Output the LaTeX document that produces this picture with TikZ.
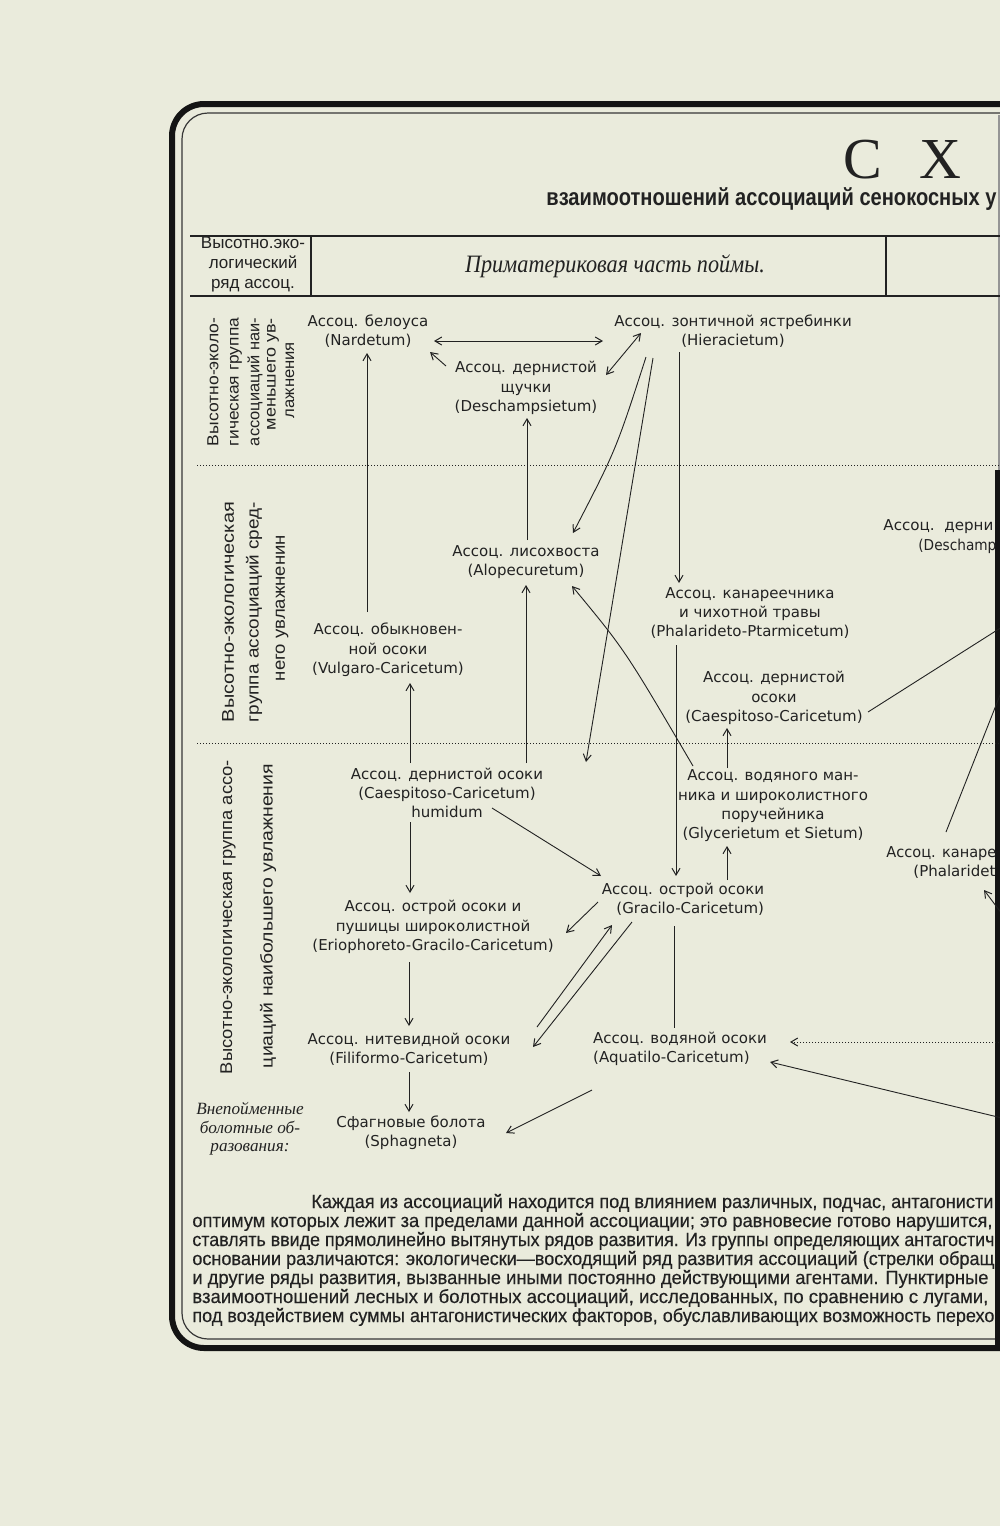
\documentclass[tikz,border=0pt]{standalone}
\usepackage{fontspec}
\setmainfont{DejaVu Sans}
\newfontfamily\labfont{DejaVu Sans}
\newfontfamily\helfont{Liberation Sans}
\newfontfamily\helmed[FakeBold=0.35]{Liberation Sans}
\newfontfamily\serfont{Liberation Serif}
\usetikzlibrary{arrows.meta}
\definecolor{paper}{HTML}{EAEBDC}
\definecolor{ink}{HTML}{222222}
\definecolor{framec}{HTML}{141414}
\tikzset{
  lbl/.style={font=\labfont\fontsize{7.5}{9.65}\selectfont, align=center, inner sep=0pt, text=ink},
  vlab/.style={font=\helfont\fontsize{8}{9.5}\selectfont, rotate=90, inner sep=0pt, text=ink},
  vlabb/.style={vlab, font=\helfont\fontsize{8.5}{9.5}\selectfont},
  ln/.style={draw=ink, line width=0.45pt},
  tipb/.tip={Straight Barb[length=3.4pt,width=4pt,line width=0.5pt]},
  arr/.style={ln, -tipb},
  darr/.style={ln, tipb-tipb},
  dotln/.style={draw=ink, line width=0.5pt, dash pattern=on 0.6pt off 0.9pt},
  para/.style={font=\helmed\fontsize{9.5}{9.5}\selectfont, anchor=base west, inner sep=0pt, text=ink},
}
\begin{document}
\begin{tikzpicture}[x=0.5pt,y=-0.5pt]
\useasboundingbox (0,0) rectangle (1000,1526);
\fill[paper] (0,0) rectangle (1000,1526);
\begin{scope}
\clip (0,0) rectangle (1000,1526);

% frame
\draw[framec, line width=3pt, rounded corners=16pt] (1004,104) -- (172,104) -- (172,1348) -- (1004,1348);
\draw[framec!85, line width=0.6pt, rounded corners=13pt] (1004,113) -- (182,113) -- (182,1339) -- (1004,1339);
\fill[framec!45] (998,115) rectangle (1000,470);
\fill[framec] (995,470) rectangle (1000,1346);

% heading
\node[anchor=base, inner sep=0pt, text=ink, font=\serfont\fontsize{29}{30}\selectfont] (hc) at (863,178) {С};
\node[anchor=base, inner sep=0pt, text=ink, font=\serfont\fontsize{29}{30}\selectfont] (hx) at (940,178) {Х};
\node[anchor=base west, inner sep=0pt, text=ink, font=\helfont\bfseries\fontsize{12}{13}\selectfont] (title) at (546,205)
  {\resizebox{225pt}{\height}{взаимоотношений ассоциаций сенокосных у}};

% header row
\draw[ln, line width=0.6pt] (190,236) -- (1004,236);
\draw[ln, line width=0.6pt] (190,296) -- (1004,296);
\draw[ln, line width=0.6pt] (311,236) -- (311,296);
\draw[ln, line width=0.6pt] (886,236) -- (886,296);
\node[align=center, inner sep=0pt, text=ink, font=\helfont\fontsize{8.5}{10}\selectfont] (hdr) at (253,264)
  {Высотно.эко-\\логический\\ряд ассоц.};
\node[anchor=base, inner sep=0pt, text=ink, font=\serfont\itshape\fontsize{12.5}{13}\selectfont] (part) at (615,272)
  {\resizebox{150pt}{\height}{Приматериковая часть поймы.}};

% dotted separators
\draw[dotln] (197,465) -- (1004,465);
\draw[dotln] (197,743) -- (1004,743);

% vertical group labels
\node[vlab] (g1a) at (213,382) {\resizebox{64pt}{\height}{Высотно-эколо-}};
\node[vlab] (g1b) at (236,382) {\resizebox{64pt}{\height}{гическая группа}};
\node[vlab] (g1c) at (255,382) {\resizebox{64pt}{\height}{ассоциаций наи-}};
\node[vlab] (g1d) at (273,374) {\resizebox{56pt}{\height}{меньшего ув-}};
\node[vlab] (g1e) at (290,380) {\resizebox{38pt}{\height}{лажнения}};
\node[vlabb] (g2a) at (228,612) {\resizebox{110pt}{\height}{Высотно-экологическая}};
\node[vlabb] (g2b) at (254,612) {\resizebox{110pt}{\height}{группа ассоциаций сред-}};
\node[vlabb] (g2c) at (282,608) {\resizebox{73pt}{\height}{него увлажненин}};
\node[vlabb] (g3a) at (228,917) {\resizebox{157pt}{\height}{Высотно-экологическая группа ассо-}};
\node[vlabb] (g3b) at (268,916) {\resizebox{152pt}{\height}{циаций наибольшего увлажнения}};

% association nodes
\node[lbl] (nard) at (368,331) {Ассоц. белоуса\\(Nardetum)};
\node[lbl] (hier) at (733,331) {Ассоц. зонтичной ястребинки\\(Hieracietum)};
\node[lbl] (desch) at (526,388) {Ассоц. дернистой\\щучки\\(Deschampsietum)};
\node[lbl] (alop) at (526,562) {Ассоц. лисохвоста\\(Alopecuretum)};
\node[lbl] (phal) at (750,613) {Ассоц. канареечника\\и чихотной травы\\(Phalarideto-Ptarmicetum)};
\node[lbl] (vulg) at (388,650) {Ассоц. обыкновен-\\ной осоки\\(Vulgaro-Caricetum)};
\node[lbl] (caesp) at (774,698) {Ассоц. дернистой\\осоки\\(Caespitoso-Caricetum)};
\node[lbl, anchor=base west] (deschR) at (883,530) {\resizebox{55pt}{\height}{Ассоц.\ \ дерни}};
\node[lbl, anchor=base west] (deschRb) at (918,550) {\resizebox{39pt}{\height}{(Deschamp}};
\node[lbl] (hum) at (447,793) {Ассоц. дернистой осоки\\(Caespitoso-Caricetum)\\humidum};
\node[lbl] (glyc) at (773,806) {Ассоц. водяного ман-\\ника и широколистного\\поручейника\\(Glycerietum et Sietum)};
\node[lbl, align=right] (grac) at (683,899) {Ассоц. острой осоки\\(Gracilo-Caricetum)};
\node[lbl] (erio) at (433,927) {Ассоц. острой осоки и\\пушицы широколистной\\(Eriophoreto-Gracilo-Caricetum)};
\node[lbl] (fili) at (409,1049) {Ассоц. нитевидной осоки\\(Filiformo-Caricetum)};
\node[lbl, align=left] (aqua) at (680,1049) {Ассоц. водяной осоки\\(Aquatilo-Caricetum)};
\node[lbl, anchor=base west] (phalR) at (886,857) {\resizebox{55pt}{\height}{Ассоц. канаре}};
\node[lbl, anchor=base west] (phalRb) at (913,876) {\resizebox{41pt}{\height}{(Phalaridet}};
\node[lbl] (sphag) at (411,1133) {Сфагновые болота\\(Sphagneta)};
\node[align=center, inner sep=0pt, text=ink, font=\serfont\itshape\fontsize{8.6}{9.3}\selectfont] (vnep) at (250,1129)
  {Внепойменные\\болотные об-\\разования:};

% connector end points
\coordinate (c1a) at (434,341); \coordinate (c1b) at (603,341);
\coordinate (c2a) at (446,366); \coordinate (c2b) at (430,352);
\coordinate (c3a) at (606,375); \coordinate (c3b) at (641,333);
\coordinate (c4a) at (367,612); \coordinate (c4b) at (367,353);
\coordinate (c5a) at (527,540); \coordinate (c5b) at (527,418);
\coordinate (c6a) at (646,357); \coordinate (c6b) at (573,533);
\coordinate (c7a) at (653,358); \coordinate (c7b) at (586,762);
\coordinate (c8a) at (679,352); \coordinate (c8b) at (679,583);
\coordinate (c9a) at (676,645); \coordinate (c9b) at (676,876);
\coordinate (c10a) at (674,926); \coordinate (c10b) at (674,1028);
\coordinate (c11a) at (727,768); \coordinate (c11b) at (727,728);
\coordinate (c12a) at (727,880); \coordinate (c12b) at (727,846);
\coordinate (c13a) at (868,712); \coordinate (c13b) at (1002,627);
\coordinate (c14a) at (1002,690); \coordinate (c14b) at (946,832);
\coordinate (c15a) at (1002,914); \coordinate (c15b) at (984,890);
\coordinate (c16a) at (1002,1118); \coordinate (c16b) at (770,1062);
\coordinate (c17a) at (592,1090); \coordinate (c17b) at (506,1133);
\coordinate (c18a) at (409,1072); \coordinate (c18b) at (409,1112);
\coordinate (c19a) at (409,962); \coordinate (c19b) at (409,1026);
\coordinate (c20a) at (410,822); \coordinate (c20b) at (410,893);
\coordinate (c21a) at (410,763); \coordinate (c21b) at (410,683);
\coordinate (c22a) at (526,763); \coordinate (c22b) at (526,585);
\coordinate (c23a) at (693,766); \coordinate (c23b) at (572,586);
\coordinate (c24a) at (492,808); \coordinate (c24b) at (601,876);
\coordinate (c25a) at (598,902); \coordinate (c25b) at (566,933);
\coordinate (c26a) at (537,1027); \coordinate (c26b) at (612,925);
\coordinate (c27a) at (632,922); \coordinate (c27b) at (533,1047);
\coordinate (c28a) at (1002,1042); \coordinate (c28b) at (790,1042);

% connectors
\draw[darr] (c1a) -- (c1b);
\draw[arr] (c2a) -- (c2b);
\draw[darr] (c3a) -- (c3b);
\draw[arr] (c4a) -- (c4b);
\draw[arr] (c5a) -- (c5b);
\draw[arr] (c6a) .. controls (616,450) .. (c6b);
\draw[arr] (c7a) -- (c7b);
\draw[arr] (c8a) -- (c8b);
\draw[arr] (c9a) -- (c9b);
\draw[ln] (c10a) -- (c10b);
\draw[arr] (c11a) -- (c11b);
\draw[arr] (c12a) -- (c12b);
\draw[ln] (c13a) -- (c13b);
\draw[ln] (c14a) -- (c14b);
\draw[arr] (c15a) -- (c15b);
\draw[arr] (c16a) -- (c16b);
\draw[arr] (c17a) -- (c17b);
\draw[arr] (c18a) -- (c18b);
\draw[arr] (c19a) -- (c19b);
\draw[arr] (c20a) -- (c20b);
\draw[arr] (c21a) -- (c21b);
\draw[arr] (c22a) -- (c22b);
\draw[arr] (c23a) .. controls (625,650) .. (c23b);
\draw[arr] (c24a) -- (c24b);
\draw[arr] (c25a) -- (c25b);
\draw[arr] (c26a) -- (c26b);
\draw[arr] (c27a) -- (c27b);
\draw[dotln, -tipb] (c28a) -- (c28b);

% bottom paragraph
\node[para] (p1) at (311,1208) {\resizebox{341pt}{\height}{Каждая из ассоциаций находится под влиянием различных, подчас, антагонисти}};
\node[para] (p2) at (192,1227) {\resizebox{400pt}{\height}{оптимум которых лежит за пределами данной ассоциации; это равновесие готово нарушится,}};
\node[para] (p3) at (192,1246) {\resizebox{401pt}{\height}{ставлять ввиде прямолинейно вытянутых рядов развития. Из группы определяющих антагостич}};
\node[para] (p4) at (192,1265) {\resizebox{401pt}{\height}{основании различаются: экологически—восходящий ряд развития ассоциаций (стрелки обращ}};
\node[para] (p5) at (192,1284) {\resizebox{398pt}{\height}{и другие ряды развития, вызванные иными постоянно действующими агентами. Пунктирные}};
\node[para] (p6) at (192,1303) {\resizebox{398pt}{\height}{взаимоотношений лесных и болотных ассоциаций, исследованных, по сравнению с лугами,}};
\node[para] (p7) at (192,1322) {\resizebox{401pt}{\height}{под воздействием суммы антагонистических факторов, обуславливающих возможность перехо}};
\end{scope}
\end{tikzpicture}
\end{document}
